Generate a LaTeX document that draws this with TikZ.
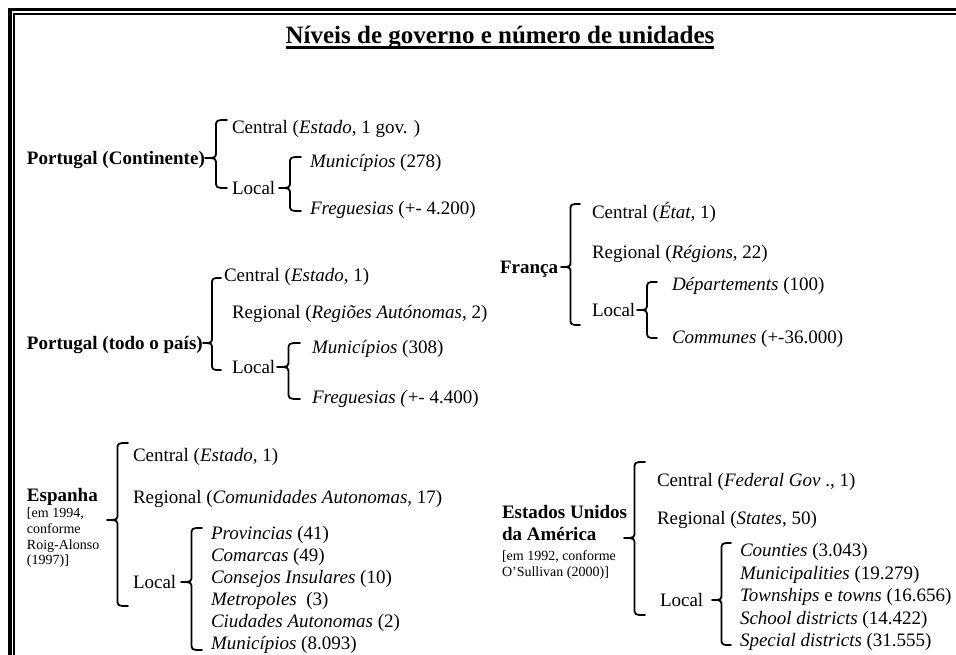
\documentclass[tikz,border=0pt]{standalone}
\usepackage{fontspec}
\setmainfont{Liberation Serif}
\usetikzlibrary{calc}
\newcommand\govbrace[5]{%
  \pgfmathsetmacro\gbm{(#1+#2)/2}%
  \draw[bracestyle] (#2,#3) .. controls (\gbm,#3) .. (\gbm,#3+7) -- (\gbm,#4-7)
    .. controls (\gbm,#4) .. (#1,#4) .. controls (\gbm,#4) .. (\gbm,#4+7)
    -- (\gbm,#5-7) .. controls (\gbm,#5) .. (#2,#5);}
\begin{document}
\begin{tikzpicture}[x=1pt,y=-1pt,
  every node/.style={inner sep=0pt, outer sep=0pt, font=\fontsize{19}{22}\selectfont},
  lbl/.style={anchor=base west},
  head/.style={anchor=base west, font=\fontsize{19}{22}\selectfont\bfseries},
  small/.style={anchor=base west, font=\fontsize{14}{16}\selectfont},
  bracestyle/.style={line width=1.8pt, line cap=round, line join=round}]
\useasboundingbox (0,0) rectangle (956,655);
% frame
\draw[line width=3.8pt] (10,670) -- (10,9.6) -- (970,9.6);
\draw[line width=2pt] (14,670) -- (14,14) -- (970,14);
% title
\node[anchor=base, font=\fontsize{25}{29}\selectfont\bfseries] (title) at (500,44) {Níveis de governo e número de unidades};
\draw[line width=2.3pt] ($(title.base west)+(0,3.5)$) -- ($(title.base east)+(0,3.5)$);

% Portugal (Continente)
\node[head] (pc) at (27,164.5) {Portugal (Continente)};
\govbrace{205}{227}{120}{158}{188}
\node[lbl] (pcC) at (232,133.5) {Central (\textit{Estado}, 1 gov. )};
\node[lbl] (pcL) at (232,194.5) {Local};
\govbrace{279}{301}{157}{188}{211}
\node[lbl] (pcM) at (310,167.5) {\textit{Municípios} (278)};
\node[lbl] (pcF) at (310,215) {\textit{Freguesias} (+- 4.200)};

% Portugal (todo o pais)
\node[head] (pt) at (27,349.5) {Portugal (todo o país)};
\govbrace{203}{221}{278}{343}{370}
\node[lbl] (ptC) at (224,281.5) {Central (\textit{Estado}, 1)};
\node[lbl] (ptR) at (232,318.5) {Regional (\textit{Regiões Autónomas}, 2)};
\node[lbl] (ptL) at (232,373.5) {Local};
\govbrace{277}{300}{343}{367}{399}
\node[lbl] (ptM) at (312,353.5) {\textit{Municípios} (308)};
\node[lbl] (ptF) at (312,403.5) {\textit{Freguesias (}+- 4.400)};

% Franca
\node[head] (fr) at (500,273.5) {França};
\govbrace{561}{580}{204}{267}{325}
\node[lbl] (frC) at (592,218.5) {Central (\textit{État}, 1)};
\node[lbl] (frR) at (592,258.5) {Regional (\textit{Régions}, 22)};
\node[lbl] (frL) at (592,316.5) {Local};
\govbrace{637}{657}{282}{310}{338}
\node[lbl] (frD) at (672,290.5) {\textit{Départements} (100)};
\node[lbl] (frK) at (672,343.5) {\textit{Communes} (+-36.000)};

% Espanha
\node[head] (es) at (27,501.5) {Espanha};
\node[small] (es1) at (27,517) {[em 1994,};
\node[small] (es2) at (27,533) {conforme};
\node[small] (es3) at (27,549) {Roig-Alonso};
\node[small] (es4) at (27,564) {(1997)]};
\govbrace{107}{128}{443}{520}{606}
\node[lbl] (esC) at (133,461.5) {Central (\textit{Estado}, 1)};
\node[lbl] (esR) at (133,503.5) {Regional (\textit{Comunidades Autonomas}, 17)};
\node[lbl] (esL) at (133,588.5) {Local};
\govbrace{181}{202}{528}{582}{650}
\node[lbl] (es01) at (211,539.5) {\textit{Provincias} (41)};
\node[lbl] (es02) at (211,561.5) {\textit{Comarcas} (49)};
\node[lbl] (es03) at (211,583.5) {\textit{Consejos Insulares} (10)};
\node[lbl] (es04) at (211,605.5) {\textit{Metropoles}\ \ (3)};
\node[lbl] (es05) at (211,627.5) {\textit{Ciudades Autonomas} (2)};
\node[lbl] (es06) at (211,649.5) {\textit{Municípios} (8.093)};

% EUA
\node[head] (us) at (502,518.5) {Estados Unidos};
\node[head] (us0) at (502,540.5) {da América};
\node[small] (us1) at (502,560) {[em 1992, conforme};
\node[small] (us2) at (502,576) {O’Sullivan (2000)]};
\govbrace{624}{645}{462}{538}{615}
\node[lbl] (usC) at (657,486.5) {Central (\textit{Federal Gov} ., 1)};
\node[lbl] (usR) at (657,524.5) {Regional (\textit{States}, 50)};
\node[lbl] (usL) at (660,606.5) {Local};
\govbrace{712}{731}{543}{600}{645}
\node[lbl] (us01) at (740,556.5) {\textit{Counties} (3.043)};
\node[lbl] (us02) at (740,579.5) {\textit{Municipalities} (19.279)};
\node[lbl] (us03) at (740,601.5) {\textit{Townships} e \textit{towns} (16.656)};
\node[lbl] (us04) at (740,624.5) {\textit{School districts} (14.422)};
\node[lbl] (us05) at (740,646.5) {\textit{Special districts} (31.555)};
\end{tikzpicture}
\end{document}
